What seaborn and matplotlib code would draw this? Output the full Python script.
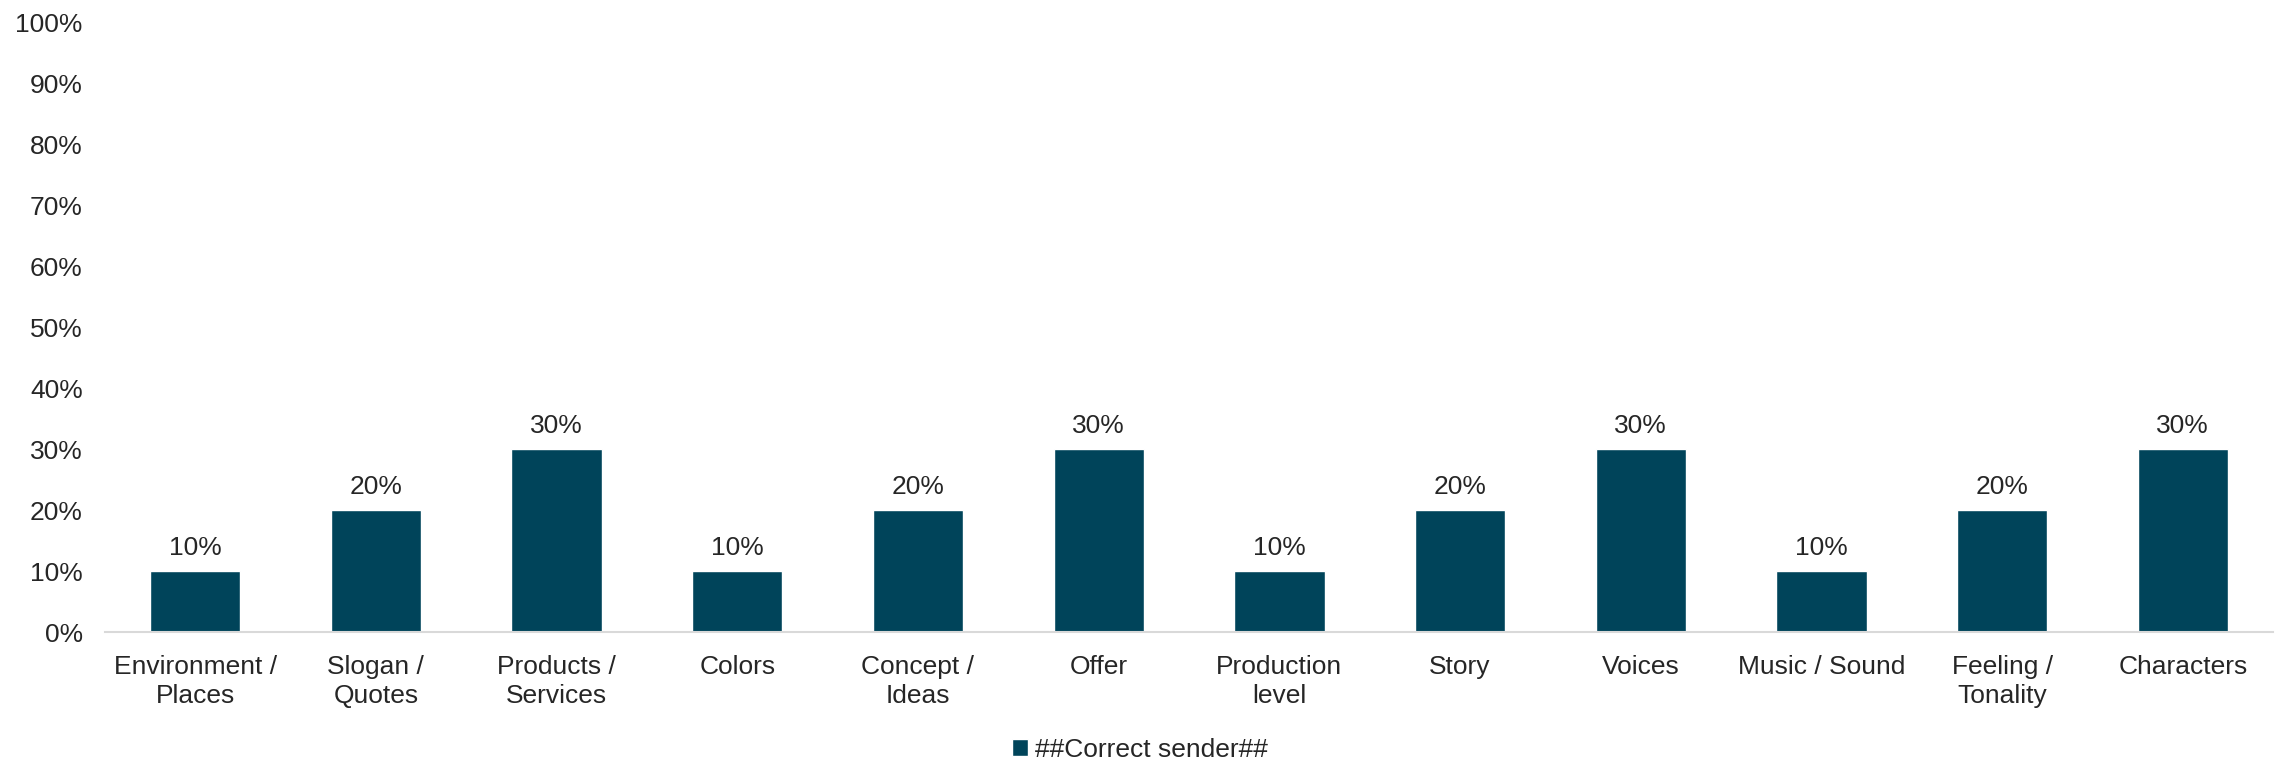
import matplotlib; matplotlib.use("Agg")
import numpy as np
import pandas as pd
import matplotlib.pyplot as plt
import seaborn as sns
from matplotlib.ticker import PercentFormatter
from matplotlib.patches import Patch

categories = ["Environment /\nPlaces", "Slogan /\nQuotes", "Products /\nServices", "Colors",
              "Concept /\nIdeas", "Offer", "Production\nlevel", "Story", "Voices",
              "Music / Sound", "Feeling /\nTonality", "Characters"]
values = [10, 20, 30, 10, 20, 30, 10, 20, 30, 10, 20, 30]
series = "##Correct sender##"
COLOR = "#00445A"
FS = 19

sns.set_style("white")
plt.rcParams["font.family"] = ["Liberation Sans", "DejaVu Sans"]

df = pd.DataFrame({"cat": categories, "val": values})

fig, ax = plt.subplots(figsize=(22.8, 7.6), dpi=100)
fig.subplots_adjust(left=0.046, right=0.997, bottom=0.168, top=0.971)
sns.barplot(data=df, x="cat", y="val", color=COLOR, width=0.5, ax=ax, saturation=1)

for p, v in zip(ax.patches, values):
    ax.text(p.get_x() + p.get_width() / 2, v + 1.8, f"{v}%", ha="center", va="bottom",
            fontsize=FS, color="#262626")

ax.set_ylim(0, 100)
ax.set_xlim(-0.5, len(categories) - 0.5)
ax.set_yticks(range(0, 101, 10))
ax.yaxis.set_major_formatter(PercentFormatter(decimals=0))
ax.set_xlabel(""); ax.set_ylabel("")
ax.tick_params(axis="both", labelsize=FS, colors="#262626", length=0)
ax.tick_params(axis="x", pad=16)
ax.tick_params(axis="y", pad=16)
for lbl in ax.get_xticklabels():
    lbl.set_linespacing(1.3)
for s in ["top", "right", "left"]:
    ax.spines[s].set_visible(False)
ax.spines["bottom"].set_color("#d9d9d9")
ax.spines["bottom"].set_linewidth(1.5)

fig.legend(handles=[Patch(facecolor=COLOR, label=series)], loc="center",
           bbox_to_anchor=(0.5, 0.013), frameon=False, fontsize=FS,
           handlelength=0.6, handleheight=0.6, handletextpad=0.3)
fig.savefig("out.png", dpi=100)
